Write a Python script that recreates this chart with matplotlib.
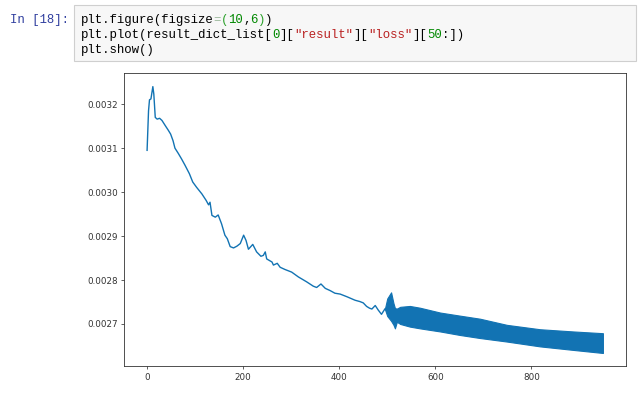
import numpy as np
import matplotlib
matplotlib.use('Agg')
import matplotlib.pyplot as plt
from matplotlib.patches import Rectangle

# curve values (index, loss)
line_x = [0, 3, 5, 8, 12, 14, 17, 21, 26, 31, 38, 44, 49, 54, 58, 65, 72, 79,
          88, 95, 103, 114, 123, 128, 131, 135, 142, 148, 155, 162, 167, 173,
          180, 187, 194, 201, 206, 211, 220, 228, 237, 242, 246, 249, 260, 263,
          271, 277, 287, 301, 315, 332, 346, 353, 362, 371, 381, 391, 402, 416,
          433, 443, 450, 457, 463, 468, 475, 481, 488, 495]
line_y = [0.003095, 0.003185, 0.003210, 0.003212, 0.003240, 0.003223, 0.003170,
          0.003166, 0.003168, 0.003163, 0.003151, 0.003141, 0.003132, 0.003117,
          0.003100, 0.003088, 0.003075, 0.003061, 0.003042, 0.003023, 0.003011,
          0.002996, 0.002981, 0.002971, 0.002977, 0.002947, 0.002943, 0.002948,
          0.002928, 0.002902, 0.002894, 0.002876, 0.002873, 0.002877, 0.002883,
          0.002902, 0.002890, 0.002870, 0.002881, 0.002864, 0.002854, 0.002856,
          0.002864, 0.002848, 0.002841, 0.002834, 0.002838, 0.002829, 0.002824,
          0.002818, 0.002807, 0.002796, 0.002786, 0.002783, 0.002791, 0.002781,
          0.002776, 0.002770, 0.002768, 0.002762, 0.002754, 0.002751, 0.002748,
          0.002740, 0.002736, 0.002734, 0.002742, 0.002732, 0.002722, 0.002734]

# fast oscillation after ~500: upper / lower envelope of the band
band_x = [495, 500, 508, 513, 516, 520, 527, 547, 568, 610, 651, 693,
          749, 818, 887, 949]
band_upper = [0.002734, 0.002758, 0.002772, 0.002747, 0.002736, 0.002735,
              0.002739, 0.002741, 0.002737, 0.002726, 0.002719, 0.002712,
              0.002698, 0.002688, 0.002683, 0.002679]
band_lower = [0.002734, 0.002718, 0.002707, 0.002698, 0.002690, 0.002705,
              0.002700, 0.002694, 0.002690, 0.002683, 0.002675, 0.002668,
              0.002660, 0.002649, 0.002641, 0.002634]

# notebook cell text
prompt = "In [18]:"
K, G, HG, EQ, R = '#000000', '#008800', '#2aa02a', '#9ab89a', '#ba2121'
code_lines = [
    [("plt.figure(figsize", K), ("=", EQ), ("(", HG), ("10", G), (",", K),
     ("6", G), (")", HG), (")", K)],
    [("plt.plot(result_dict_list[", K), ("0", G), ("][", K), ('"result"', R),
     ("][", K), ('"loss"', R), ("][", K), ("50", G), (":])", K)],
    [("plt.show()", K)],
]

W, H = 639, 394
fig = plt.figure(figsize=(W / 100, H / 100), dpi=100)
renderer = fig.canvas.get_renderer()

def fx(px):
    return px / W

def fy(py):
    return 1 - py / H

# code cell box
fig.patches.append(Rectangle((fx(74), fy(61)), fx(636) - fx(74), fy(5) - fy(61),
                             transform=fig.transFigure, fc='#f7f7f7',
                             ec='#cfcfcf', lw=0.8))
mono = 'Liberation Mono'
fs = 8.9
fig.text(fx(10), fy(18.3), prompt, family=mono, fontsize=fs, color='#303f9f',
         va='center_baseline', ha='left')
for row, tokens in enumerate(code_lines):
    x = 80.7
    for txt, c in tokens:
        t = fig.text(fx(x), fy(18.3 + row * 15), txt, family=mono,
                     fontsize=fs, color=c, va='center_baseline', ha='left')
        x += t.get_window_extent(renderer).width

# the plot output
ax = fig.add_axes([fx(124.3), fy(366.3), fx(625.7) - fx(124.3), fy(73.3) - fy(366.3)])
col = '#1273b3'
ax.plot(line_x, line_y, color=col, lw=1.0)
ax.fill_between(band_x, band_lower, band_upper, color=col, lw=0.8, edgecolor=col)

ax.set_xticks([0, 200, 400, 600, 800])
ax.set_yticks([0.0027, 0.0028, 0.0029, 0.0030, 0.0031, 0.0032])
ax.tick_params(labelsize=6.3, length=2.3, width=0.55, pad=2.3, colors='#333333')
for s in ax.spines.values():
    s.set_linewidth(0.6)
    s.set_color('#333333')

fig.savefig('out.png', dpi=100)
